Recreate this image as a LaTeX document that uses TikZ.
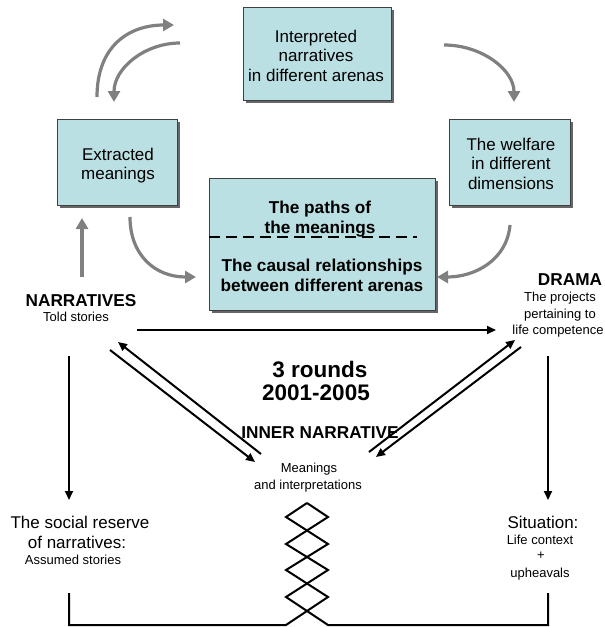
\documentclass[tikz,border=0pt]{standalone}
\usepackage{fontspec}
\setmainfont{Liberation Sans}
\usetikzlibrary{arrows.meta,shadows}
\definecolor{boxfill}{RGB}{187,224,227}
\definecolor{arrowgray}{RGB}{128,128,128}
\begin{document}
\begin{tikzpicture}[x=1pt,y=-1pt,
  box/.style={draw=black!75, line width=0.9pt, fill=boxfill, inner sep=0pt,
    drop shadow={shadow xshift=3pt, shadow yshift=-3pt, fill=black!60, opacity=1}},
  txt/.style={font=\fontsize{17}{20}\selectfont, inner sep=0pt, anchor=base},
  btxt/.style={font=\fontsize{17.2}{20}\selectfont\bfseries, inner sep=0pt, anchor=base},
  stxt/.style={font=\fontsize{13}{16}\selectfont, inner sep=0pt, anchor=base},
  bigtxt/.style={font=\fontsize{22.5}{22}\selectfont\bfseries, inner sep=0pt, anchor=base},
  grayarrow/.style={draw=arrowgray, line width=3.2pt, -{Triangle[length=11pt,width=12pt]}},
  blackarrow/.style={draw=black, line width=2pt, -{Triangle[length=9pt,width=8pt]}},
  blackline/.style={draw=black, line width=2pt},
  dashline/.style={draw=black, line width=2.6pt, dash pattern=on 11pt off 6pt}]
\useasboundingbox (0,0) rectangle (605,627);

% boxes
\node[box, minimum width=148pt, minimum height=93pt] (interp) at (317,53.5) {};
\node[box, minimum width=120pt, minimum height=86pt] (extr) at (117,162) {};
\node[box, minimum width=121pt, minimum height=86pt] (welf) at (509.5,162) {};
\node[box, minimum width=226pt, minimum height=132pt] (paths) at (322,244) {};

% box texts
\node[txt] (i1) at (316,42) {Interpreted};
\node[txt] (i2) at (316,61) {narratives};
\node[txt] (i3) at (316,81) {in different arenas};
\node[txt] (e1) at (118,160) {Extracted};
\node[txt] (e2) at (118,179) {meanings};
\node[txt] (w1) at (511,150) {The welfare};
\node[txt] (w2) at (511,169) {in different};
\node[txt] (w3) at (511,189) {dimensions};
\node[btxt] (p1) at (320,213) {The paths of};
\node[btxt] (p2) at (320,233) {the meanings};
\node[btxt] (c1) at (322,271) {The causal relationships};
\node[btxt] (c2) at (322,291) {between different arenas};
\coordinate (dashL) at (209,237);
\coordinate (dashR) at (417,237);
\draw[dashline] (dashL) -- (dashR);

% gray curved arrows
\coordinate (a1s) at (97,97);   \coordinate (a1e) at (174,25);
\coordinate (a2s) at (180,43);  \coordinate (a2e) at (114,102);
\coordinate (a3s) at (444,45);  \coordinate (a3e) at (514,102);
\coordinate (a4s) at (130,217); \coordinate (a4e) at (196,277);
\coordinate (a5s) at (510,225); \coordinate (a5e) at (437,277);
\coordinate (a6s) at (82,277);  \coordinate (a6e) at (82,218);
\draw[grayarrow] (a1s) .. controls (97,45) and (130,25) .. (a1e);
\draw[grayarrow] (a2s) .. controls (145,43) and (114,68) .. (a2e);
\draw[grayarrow] (a3s) .. controls (482,45) and (514,70) .. (a3e);
\draw[grayarrow] (a4s) .. controls (130,255) and (155,277) .. (a4e);
\draw[grayarrow] (a5s) .. controls (507,260) and (475,277) .. (a5e);
\draw[grayarrow] (a6s) -- (a6e);

% side labels
\node[btxt] (narr) at (81,306) {NARRATIVES};
\node[stxt] (told) at (76,321.5) {Told stories};
\node[btxt] (drama) at (570,285) {DRAMA};
\node[stxt] (d1) at (560,301.5) {The projects};
\node[stxt] (d2) at (560,318.5) {pertaining to};
\node[stxt] (d3) at (558,334.5) {life competence};

% center labels
\node[bigtxt] (r1) at (320,377) {3 rounds};
\node[bigtxt] (r2) at (316,400) {2001-2005};
\node[btxt] (inner) at (320,438) {INNER NARRATIVE};
\node[stxt] (m1) at (309,472.5) {Meanings};
\node[stxt] (m2) at (308,489.5) {and interpretations};

% bottom labels
\node[txt] (s1) at (80,528) {The social reserve};
\node[txt] (s2) at (77,548) {of narratives:};
\node[stxt] (s3) at (73,564) {Assumed stories};
\node[txt] (t1) at (543,528) {Situation:};
\node[stxt] (t2) at (540,544.5) {Life context};
\node[stxt] (t3) at (541,559) {+};
\node[stxt] (t4) at (540,577.5) {upheavals};

% black arrows
\coordinate (hS) at (137,330); \coordinate (hE) at (496,330);
\draw[blackarrow] (hS) -- (hE);
\coordinate (l1s) at (261,454); \coordinate (l1e) at (118,342);
\coordinate (l2s) at (110,350); \coordinate (l2e) at (255,462);
\coordinate (r1s) at (369,452); \coordinate (r1e) at (515,340);
\coordinate (r2s) at (521,347); \coordinate (r2e) at (376,457);
\draw[blackarrow] (l1s) -- (l1e);
\draw[blackarrow] (l2s) -- (l2e);
\draw[blackarrow] (r1s) -- (r1e);
\draw[blackarrow] (r2s) -- (r2e);
\coordinate (vlS) at (69,356); \coordinate (vlE) at (69,500);
\coordinate (vrS) at (548,356); \coordinate (vrE) at (548,500);
\draw[blackarrow] (vlS) -- (vlE);
\draw[blackarrow] (vrS) -- (vrE);

% bottom frame and braid
\coordinate (fl) at (69,593); \coordinate (flb) at (69,625);
\coordinate (fr) at (548,593); \coordinate (frb) at (548,625);
\coordinate (zl) at (286,625); \coordinate (zr) at (328,625);
\coordinate (ztop) at (307,503);
\draw[blackline, line join=miter] (fl) -- (flb) -- (zl) -- (328,597) -- (286,570) -- (328,544) -- (286,517) -- (ztop);
\draw[blackline, line join=miter] (fr) -- (frb) -- (zr) -- (286,597) -- (328,570) -- (286,544) -- (328,517) -- (ztop);
\end{tikzpicture}
\end{document}
